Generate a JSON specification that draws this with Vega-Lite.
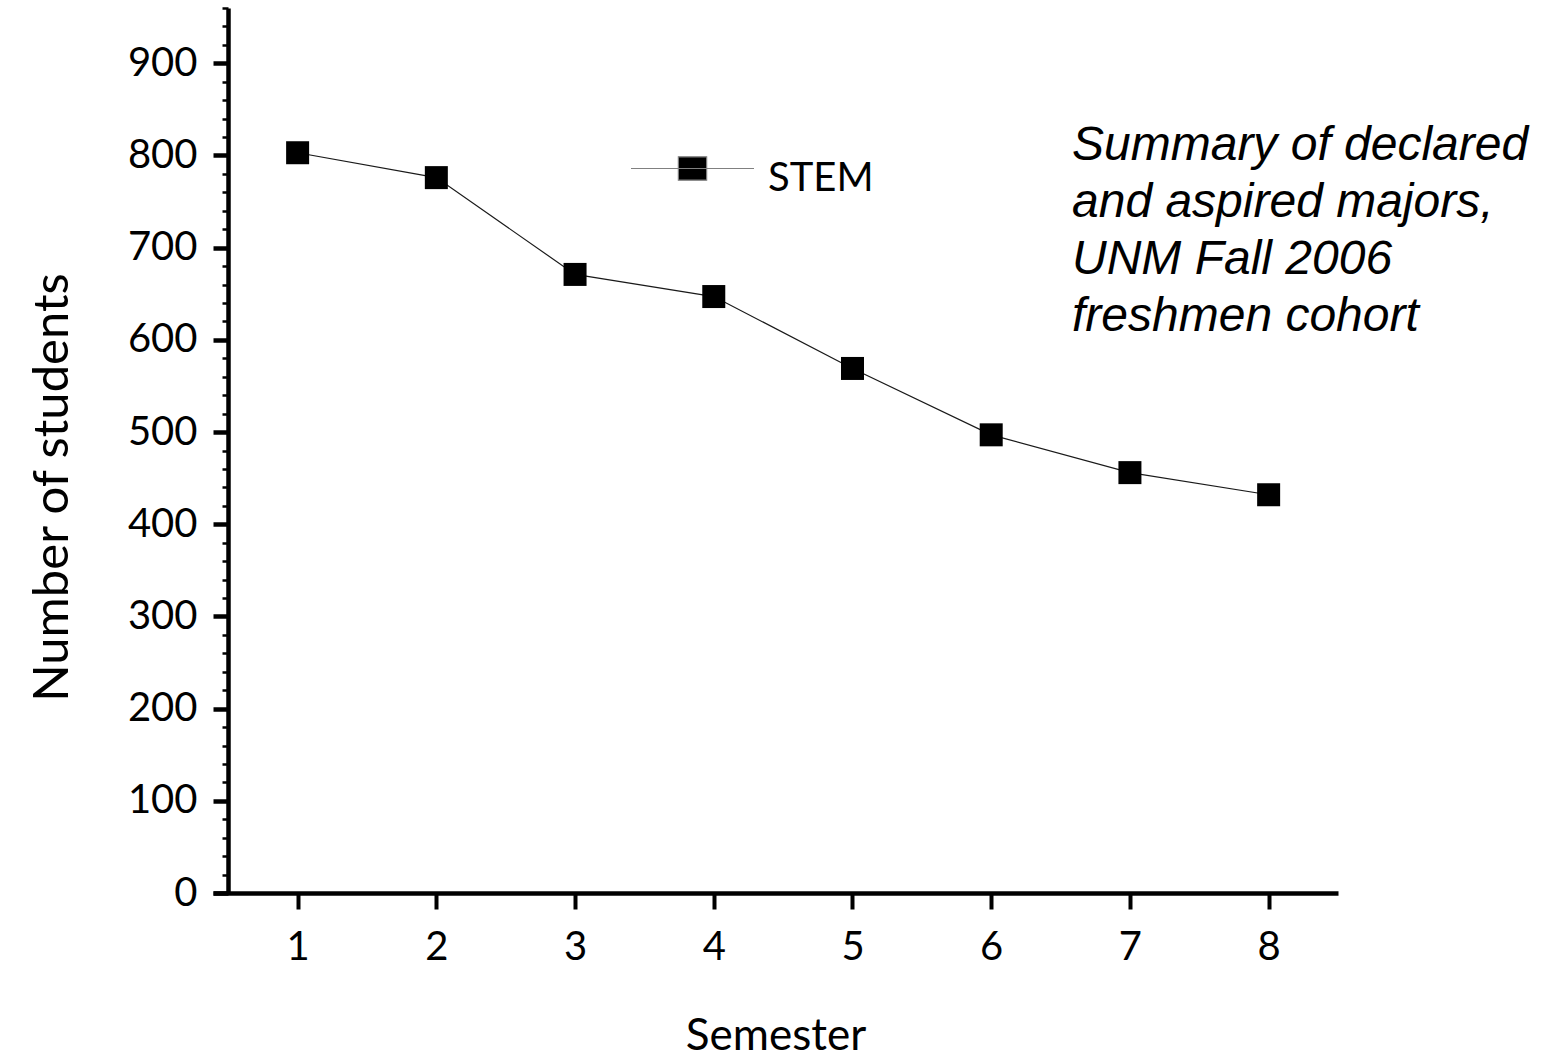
{
  "$schema": "https://vega.github.io/schema/vega-lite/v6.json",
  "autosize": {"type": "none"},
  "padding": {"left": 213, "top": 8, "right": 208, "bottom": 165},
  "width": 1125,
  "height": 885,
  "background": "white",
  "title": {
    "text": ["Summary of declared", "and aspired majors,", "UNM Fall 2006", "freshmen cohort"],
    "orient": "top",
    "anchor": "start",
    "frame": "group",
    "offset": 0,
    "dx": 859,
    "dy": 334,
    "baseline": "top",
    "font": "Liberation Sans",
    "fontSize": 48,
    "fontStyle": "italic",
    "fontWeight": "normal",
    "color": "black",
    "lineHeight": 57
  },
  "data": {
    "values": [
      {"semester": 1, "students": 803, "series": "STEM"},
      {"semester": 2, "students": 776, "series": "STEM"},
      {"semester": 3, "students": 671, "series": "STEM"},
      {"semester": 4, "students": 647, "series": "STEM"},
      {"semester": 5, "students": 569, "series": "STEM"},
      {"semester": 6, "students": 497, "series": "STEM"},
      {"semester": 7, "students": 456, "series": "STEM"},
      {"semester": 8, "students": 432, "series": "STEM"}
    ]
  },
  "encoding": {
    "x": {
      "field": "semester",
      "type": "quantitative",
      "scale": {"domain": [0.39, 8.5], "nice": false, "zero": false},
      "axis": {
        "values": [1, 2, 3, 4, 5, 6, 7, 8],
        "format": "d",
        "grid": false,
        "domainColor": "black",
        "domainWidth": 4.5,
        "tickColor": "black",
        "tickWidth": 4,
        "tickSize": 16,
        "labelFont": "Lato",
        "labelFontSize": 40,
        "labelColor": "black",
        "labelPadding": 18,
        "title": "Semester",
        "titleFont": "Lato",
        "titleFontSize": 44,
        "titleFontWeight": "normal",
        "titleColor": "black",
        "titleBaseline": "alphabetic",
        "titleY": 156
      }
    }
  },
  "layer": [
    {
      "mark": {"type": "line", "color": "#1a1a1a", "strokeWidth": 1.2},
      "encoding": {
        "y": {
          "field": "students",
          "type": "quantitative",
          "scale": {"domain": [0, 960], "nice": false, "zero": true},
          "axis": {
            "orient": "left",
            "offset": -15,
            "values": [0, 100, 200, 300, 400, 500, 600, 700, 800, 900],
            "grid": false,
            "domainColor": "black",
            "domainWidth": 4.5,
            "tickColor": "black",
            "tickWidth": 4.5,
            "tickSize": 15,
            "labelFont": "Lato",
            "labelFontSize": 40,
            "labelColor": "black",
            "labelPadding": 16,
            "title": "Number of students",
            "titleFont": "Lato",
            "titleFontSize": 49,
            "titleFontWeight": "normal",
            "titleColor": "black",
            "titleAngle": -90,
            "titleAlign": "center",
            "titleBaseline": "alphabetic",
            "titleX": -161,
            "titleY": 479
          }
        }
      }
    },
    {
      "mark": {"type": "point", "shape": "square", "filled": true, "size": 529, "opacity": 1},
      "encoding": {
        "y": {
          "field": "students",
          "type": "quantitative",
          "axis": {
            "orient": "left",
            "offset": -15,
            "values": [20, 40, 60, 80, 120, 140, 160, 180, 220, 240, 260, 280, 320, 340, 360, 380, 420, 440, 460, 480, 520, 540, 560, 580, 620, 640, 660, 680, 720, 740, 760, 780, 820, 840, 860, 880, 920, 940, 960],
            "grid": false,
            "domain": false,
            "labels": false,
            "tickColor": "black",
            "tickWidth": 2.5,
            "tickSize": 6,
            "title": null
          }
        },
        "color": {
          "field": "series",
          "type": "nominal",
          "scale": {"range": ["#000000"]},
          "legend": {
            "orient": "none",
            "legendX": 417,
            "legendY": 108,
            "title": null,
            "padding": 0,
            "symbolType": "M-1,-0.163H1M-0.23,-0.353H0.23V0.027H-0.23Z",
            "symbolSize": 15129,
            "symbolFillColor": "black",
            "symbolStrokeColor": "#808080",
            "symbolStrokeWidth": 1.2,
            "labelFont": "Lato",
            "labelFontSize": 40,
            "labelColor": "black",
            "labelOffset": 13,
            "labelBaseline": "middle",
            "encode": {
              "symbols": {"update": {"stroke": {"value": "#808080"}, "strokeWidth": {"value": 1.2}, "fill": {"value": "black"}, "opacity": {"value": 1}}}
            }
          }
        }
      }
    }
  ],
  "resolve": {"axis": {"y": "independent"}},
  "config": {"view": {"stroke": null}}
}
